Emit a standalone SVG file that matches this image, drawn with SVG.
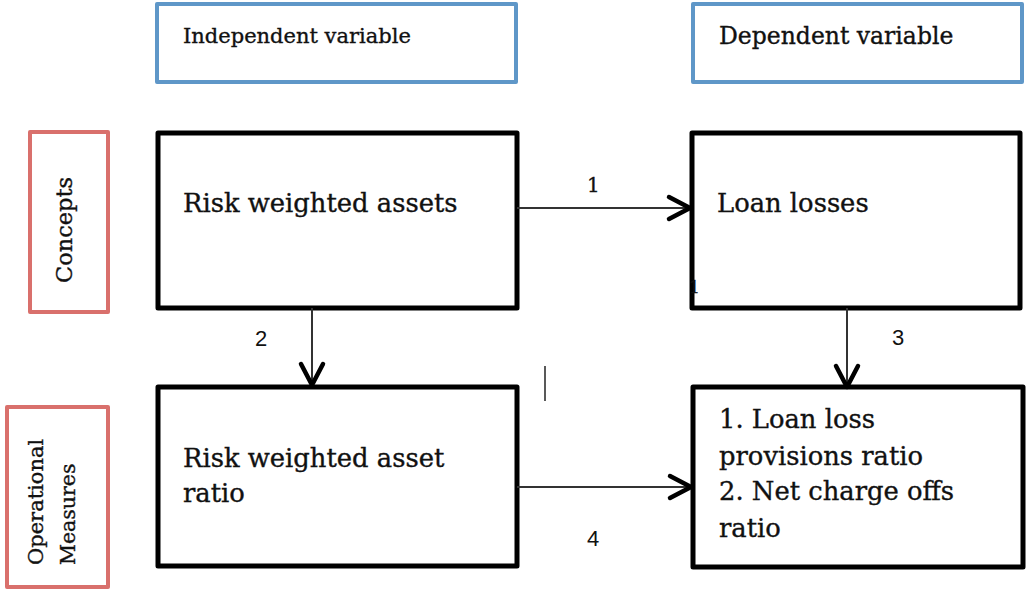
<svg xmlns="http://www.w3.org/2000/svg" width="1027" height="590" viewBox="0 0 1027 590">
<style>
.hdr{fill:#fff;stroke:#5f97c8;stroke-width:4;stroke-linejoin:round}
.side{fill:#fff;stroke:#d9706c;stroke-width:4;stroke-linejoin:round}
.box{fill:#fff;stroke:#000;stroke-width:5;stroke-linejoin:round}
.t{font-family:"DejaVu Serif","Liberation Serif",serif;fill:#111;stroke:#111;stroke-width:0.35}
.lbl{font-family:"Liberation Sans",Arial,sans-serif;font-size:22px;fill:#111}
.conn{stroke:#333;stroke-width:2;fill:none}
.head{stroke:#000;stroke-width:4.5;fill:none;stroke-linecap:round;stroke-linejoin:round}
</style>
<g id="indep-header"><rect class="hdr" x="157" y="4" width="359" height="78"/><text class="t" x="183" y="43" font-size="21">Independent variable</text></g>
<g id="dep-header"><rect class="hdr" x="693" y="4" width="329" height="78"/><text class="t" x="719" y="44" font-size="23.5">Dependent variable</text></g>
<g id="concepts"><rect class="side" x="30" y="132" width="78" height="180"/><text class="t" font-size="22.5" text-anchor="middle" transform="translate(72,230) rotate(-90)">Concepts</text></g>
<g id="operational"><rect class="side" x="7" y="407" width="101" height="180"/><text class="t" font-size="21" transform="translate(43,565) rotate(-90)">Operational</text><text class="t" font-size="20.5" transform="translate(75,565) rotate(-90)">Measures</text></g>
<g id="rwa"><rect class="box" x="158" y="133" width="359" height="175"/><text class="t" x="183" y="212" font-size="25.8">Risk weighted assets</text></g>
<g id="loan-losses"><rect class="box" x="692" y="133" width="328" height="175"/><text class="t" x="717" y="212" font-size="25.8">Loan losses</text><text class="t" x="689" y="293" font-size="17" fill="#333">1</text></g>
<g id="rwa-ratio"><rect class="box" x="158" y="387" width="359" height="179"/><text class="t" x="183" y="467" font-size="25.8">Risk weighted asset</text><text class="t" x="183" y="502" font-size="25.8">ratio</text></g>
<g id="measures"><rect class="box" x="693" y="387" width="330" height="180"/><text class="t" font-size="25.8"><tspan x="719" y="428">1. Loan loss</tspan><tspan x="719" y="465">provisions ratio</tspan><tspan x="719" y="500">2. Net charge offs</tspan><tspan x="719" y="537">ratio</tspan></text></g>
<g id="connectors">
<line class="conn" x1="517" y1="208" x2="689" y2="208"/><polyline class="head" points="669,197 690,208 669,219"/>
<text class="t" x="587" y="192" font-size="20">1</text>
<line class="conn" x1="312" y1="308" x2="312" y2="384"/><polyline class="head" points="301,364 312,385 323,364"/>
<text class="lbl" x="255" y="346">2</text>
<line class="conn" x1="847" y1="308" x2="847" y2="386"/><polyline class="head" points="836,366 847,387 858,366"/>
<text class="lbl" x="892" y="345">3</text>
<line class="conn" x1="517" y1="487" x2="690" y2="487"/><polyline class="head" points="670,476 691,487 670,498"/>
<text class="lbl" x="587" y="546">4</text>
<line x1="545" y1="366" x2="545" y2="401" stroke="#222" stroke-width="1.5"/>
</g>
</svg>
